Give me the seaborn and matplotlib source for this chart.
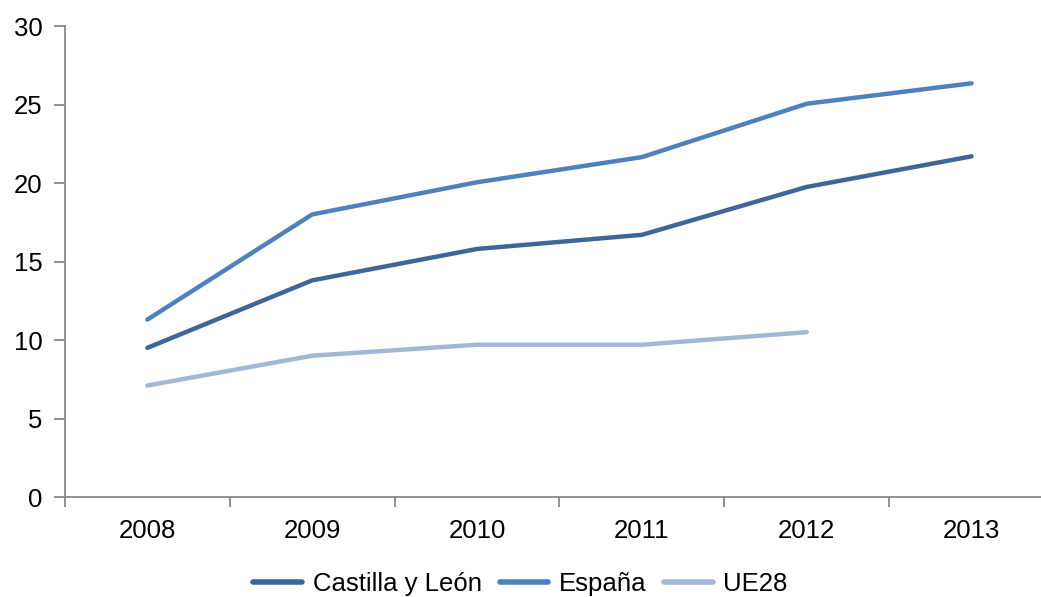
import pandas as pd
import numpy as np
import matplotlib
matplotlib.use("Agg")
import matplotlib.pyplot as plt
import seaborn as sns

# data
years = ["2008", "2009", "2010", "2011", "2012", "2013"]
castilla = [9.5, 13.8, 15.8, 16.7, 19.75, 21.7]
espana = [11.3, 18.0, 20.05, 21.65, 25.05, 26.35]
ue28 = [7.1, 9.0, 9.7, 9.7, 10.5, np.nan]

series_names = ["Castilla y León", "España", "UE28"]
colors = ["#3E6698", "#4F81BD", "#A5B7D6"]

df = pd.DataFrame({"year": years, "Castilla y León": castilla, "España": espana, "UE28": ue28})
df["pos"] = range(len(years))
long_df = df.melt(id_vars=["year", "pos"], var_name="serie", value_name="valor").dropna()

sns.set_style("white")
plt.rcParams["font.family"] = ["Liberation Sans", "DejaVu Sans"]
plt.rcParams["text.color"] = "black"
plt.rcParams["xtick.labelcolor"] = "black"
plt.rcParams["ytick.labelcolor"] = "black"

fig = plt.figure(figsize=(10.41, 5.97), dpi=100)
ax = fig.add_axes([0.0624, 0.1675, 0.9501, 0.7889])

sns.lineplot(data=long_df, x="pos", y="valor", hue="serie", hue_order=series_names,
             palette=colors, linewidth=3.2, ax=ax, legend=False)

ax.set_xlim(-0.5, 5.5)
ax.set_ylim(0, 30)
ax.set_yticks(range(0, 31, 5))
ax.set_xticks(range(len(years)))
ax.set_xticklabels(years)
ax.set_xticks(np.arange(-0.5, 6, 1), minor=True)
ax.set_xlabel("")
ax.set_ylabel("")

for side in ["top", "right"]:
    ax.spines[side].set_visible(False)
for side in ["left", "bottom"]:
    ax.spines[side].set_color("#888888")
    ax.spines[side].set_linewidth(1.3)

ax.tick_params(axis="y", which="major", length=8, width=1.3, color="#888888",
               labelsize=18.5, pad=8, left=True, labelcolor="black")
ax.tick_params(axis="x", which="major", length=0, labelsize=18.5, pad=16, labelcolor="black")
ax.tick_params(axis="x", which="minor", length=7, width=1.3, color="#888888",
               direction="out", bottom=True)

handles = [plt.Line2D([], [], color=c, linewidth=4, solid_capstyle="round") for c in colors]
fig.legend(handles, series_names, loc="center", bbox_to_anchor=(0.5, 0.022), ncol=3,
           frameon=False, fontsize=18.5, handlelength=1.9, handletextpad=0.4,
           columnspacing=0.7, labelcolor="black")

fig.savefig("out.png", dpi=100)
